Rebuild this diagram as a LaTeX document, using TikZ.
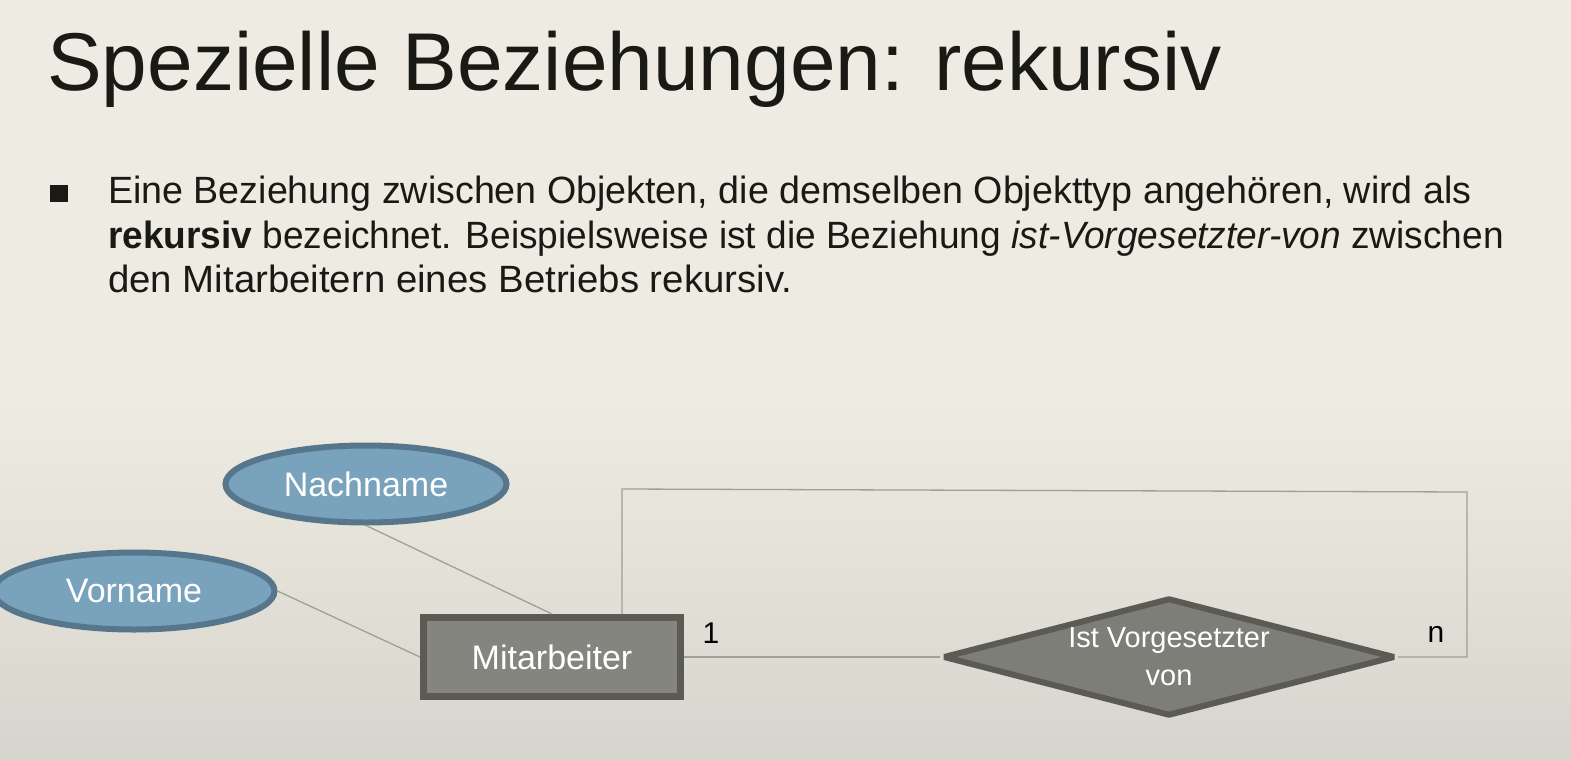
\documentclass[tikz,border=0pt]{standalone}
\usepackage{fontspec}
\setmainfont{Liberation Sans}
\usetikzlibrary{shapes.geometric}
\definecolor{bgtop}{HTML}{EEECE2}
\definecolor{bgbot}{HTML}{D6D4CC}
\definecolor{ellfill}{HTML}{79A2BD}
\definecolor{elldraw}{HTML}{56768C}
\definecolor{boxfill}{HTML}{85857F}
\definecolor{boxdraw}{HTML}{5B5B54}
\definecolor{linec}{HTML}{A0A096}
\definecolor{txt}{HTML}{1A1A14}
\tikzset{
  attr/.style={ellipse, fill=ellfill, draw=elldraw, line width=6pt, minimum width=281pt, minimum height=77pt, inner sep=0pt, text=white, font=\fontsize{34}{40}\selectfont},
  entity/.style={rectangle, fill=boxfill, draw=boxdraw, line width=7pt, minimum width=257pt, minimum height=79pt, inner sep=0pt, text=white, font=\fontsize{34}{40}\selectfont},
  rel/.style={diamond, shape aspect=3.83, fill=boxfill!95!black, draw=boxdraw, line width=6pt, line join=bevel, minimum width=452pt, minimum height=118pt, inner sep=0pt, text=white, align=center, font=\fontsize{29}{38}\selectfont},
  conn/.style={draw=linec, line width=1.3pt},
  bodytxt/.style={anchor=base west, inner sep=0pt, text=txt, font=\fontsize{38}{44}\selectfont},
  card/.style={inner sep=0pt, text=black, font=\fontsize{30}{36}\selectfont}
}
\begin{document}
\begin{tikzpicture}[x=1pt,y=-1pt]
\useasboundingbox (0,0) rectangle (1571,760);
\fill[bgtop] (0,0) rectangle (1571,760);
\shade[top color=bgtop, bottom color=bgbot] (0,400) rectangle (1571,760);
% title
\node[anchor=base west, inner sep=0pt, text=txt, font=\fontsize{82}{90}\selectfont] (title) at (47,90) {Spezielle Beziehungen: rekursiv};
% bullet
\fill[txt] (50,185) rectangle (68,202);
\node[bodytxt] (l1) at (108,203) {\scalebox{0.99}[1]{Eine Beziehung zwischen Objekten, die demselben Objekttyp angehören, wird als}};
\node[bodytxt] (l2) at (108,248) {\scalebox{0.975}[1]{\textbf{rekursiv} bezeichnet. Beispielsweise ist die Beziehung \textit{ist-Vorgesetzter-von} zwischen}};
\node[bodytxt] (l3) at (108,292) {\scalebox{1.01}[1]{den Mitarbeitern eines Betriebs rekursiv.}};
% diagram
\node[attr] (nach) at (366,484) {Nachname};
\node[attr] (vor) at (134,591) {Vorname};
\node[entity] (ma) at (552,657) {Mitarbeiter};
\node[rel] (rel) at (1169,657) {Ist Vorgesetzter\\von};
\coordinate (lt) at (622,489);
\coordinate (rt) at (1467,492);
\draw[conn] (nach.south) -- (ma.north);
\draw[conn] (vor.east) -- (ma.west);
\draw[conn] (ma.east) -- (rel.west);
\draw[conn] ([xshift=70pt]ma.north) -- (lt) -- (rt) -- (rt |- rel.east) -- (rel.east);
\node[card] (c1) at (711,633) {1};
\node[card] (cn) at (1436,634) {n};
\end{tikzpicture}
\end{document}
